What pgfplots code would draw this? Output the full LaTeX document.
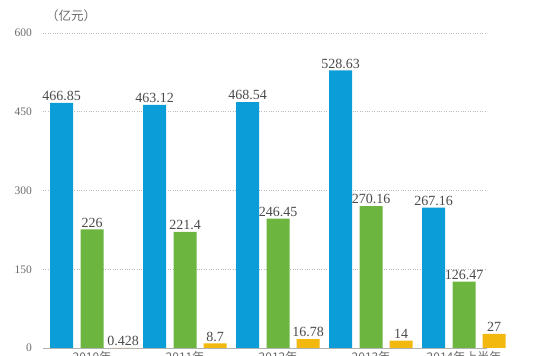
\documentclass[border=0pt]{standalone}
\usepackage{pgfplots}
\pgfplotsset{compat=1.18}
\usepackage{fontspec}
\setmainfont{Liberation Serif}
\newfontfamily\cjk{Noto Sans CJK SC}
\definecolor{cblue}{HTML}{0A9DD8}
\definecolor{cgreen}{HTML}{6CB640}
\definecolor{cyellow}{HTML}{F2B80E}
\definecolor{ctext}{HTML}{4A4A4A}
\definecolor{ctick}{HTML}{6A6A6A}
\begin{document}
\begin{tikzpicture}
\useasboundingbox (0,0) rectangle (550pt,356pt);
\clip (0,0) rectangle (550pt,356pt);
\begin{axis}[
  at={(43pt,8pt)}, anchor=south west,
  x=1pt, y=0.525pt,
  xmin=43, xmax=487, ymin=0, ymax=600,
  axis x line*=bottom, axis y line*=left,
  x axis line style={draw=gray!60, line width=0.6pt, -},
  y axis line style={draw=none},
  xtick=\empty,
  ytick={0,150,300,450,600},
  ymajorgrids, grid style={dotted, gray!55, line width=0.6pt},
  major tick length=0pt,
  yticklabel style={font=\fontsize{11.5}{11.5}\selectfont, text=ctick, inner sep=0pt, xshift=-11pt},
  /pgf/number format/assume math mode=true,
  clip=false,
  ybar, bar width=23pt,
  point meta=explicit symbolic,
  nodes near coords,
  every node near coord/.append style={font=\fontsize{14}{14}\selectfont, text=ctext, inner sep=1pt, yshift=1pt},
]
\addplot[fill=cblue, draw=none, bar shift=0pt] coordinates {
  (61.5,466.85) [466.85] (154.5,463.12) [463.12] (247.5,468.54) [468.54] (340.5,528.63) [528.63] (433.5,267.16) [267.16]};
\addplot[fill=cgreen, draw=none, bar shift=0pt] coordinates {
  (92,226) [226] (185,221.4) [221.4] (278,246.45) [246.45] (371,270.16) [270.16] (464,126.47) [126.47]};
\addplot[fill=cyellow, draw=none, bar shift=0pt] coordinates {
  (123,0.428) [0.428] (215,8.7) [8.7] (308,16.78) [16.78] (401,14) [14] (494,27) [27]};
\end{axis}
\node[anchor=west, text=ctick, font=\cjk\fontsize{12.5}{12.5}\selectfont, inner sep=0pt] at (46pt,340pt) {（亿元）};
\foreach \xx/\lab in {92/2010年, 185/2011年, 278/2012年, 371/2013年, 464/2014年上半年}
  \node[anchor=north, text=ctick, font=\cjk\fontsize{12}{12}\selectfont, inner sep=0pt] at (\xx pt,5pt) {\lab};
\end{tikzpicture}
\end{document}
